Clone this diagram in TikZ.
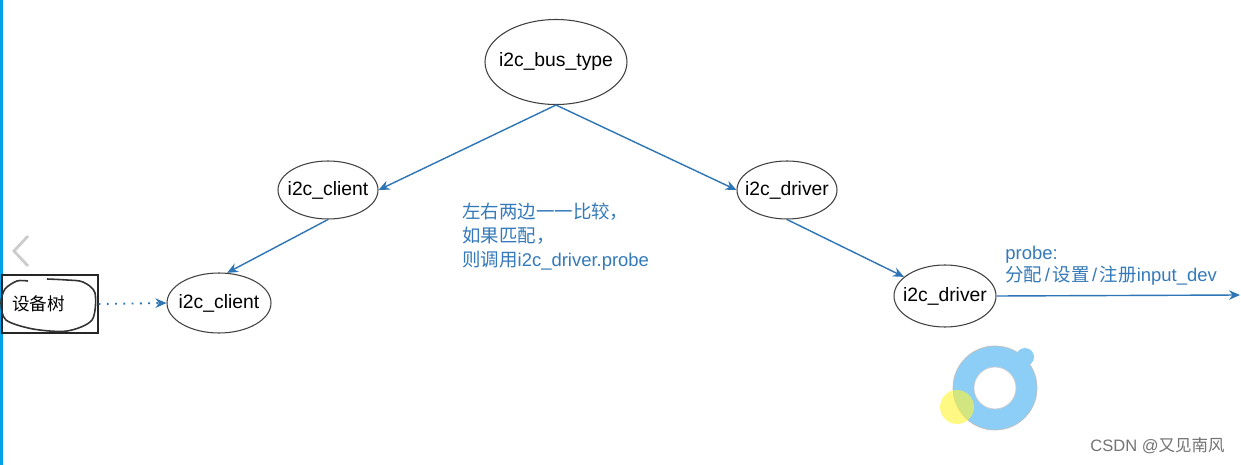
\documentclass[tikz,border=0pt]{standalone}
\usepackage{fontspec}
\setmainfont{Liberation Sans}
\newfontfamily\cjk{Noto Sans CJK SC}
\usetikzlibrary{arrows.meta,shapes.geometric}

\definecolor{linkblue}{RGB}{46,117,182}
\definecolor{noteblue}{RGB}{52,122,186}
\definecolor{edgebar}{RGB}{0,160,233}
\definecolor{lensblue}{RGB}{140,206,245}

\begin{document}
\begin{tikzpicture}[
  font=\fontsize{11}{13}\selectfont,
  >={Stealth[length=2.2mm,width=1.9mm]},
  bubble/.style={ellipse, draw=black!75, line width=0.6pt, inner xsep=-4mm, inner ysep=0pt},
  note/.style={text=noteblue, align=left, anchor=north west, inner sep=0pt},
  arr/.style={->, line width=0.8pt, draw=linkblue}
]

% Frame
\fill[white] (0,0) rectangle (24.82,-9.30);
\useasboundingbox (0,0) rectangle (24.82,-9.30);
\fill[edgebar] (0,0) rectangle (0.05,-9.30);
\draw[black!20, line width=1.6pt] (0.56,-4.72) -- (0.28,-5.02) -- (0.56,-5.32);

% Bus and the two sides
\node[bubble, minimum width=2.84cm, minimum height=1.7cm] (bus) at (11.12,-1.24) {i2c\_bus\_type};
\node[bubble, minimum width=2.0cm, minimum height=1.16cm] (client) at (6.56,-3.80) {i2c\_client};
\node[bubble, minimum width=2.0cm, minimum height=1.16cm] (driver) at (15.74,-3.80) {i2c\_driver};
\node[bubble, minimum width=2.08cm, minimum height=1.2cm] (clientdev) at (4.38,-6.06) {i2c\_client};
\node[bubble, minimum width=2.04cm, minimum height=1.24cm] (driverdev) at (18.90,-5.92) {i2c\_driver};

% Device tree
\node[draw=black!85, line width=0.6pt, minimum width=1.92cm, minimum height=1.16cm,
      font=\cjk\fontsize{10}{12}\selectfont] (dts) at (1.0,-6.08) {设备树\kern0.46cm};
\draw[black!80, line width=0.9pt] plot[smooth] coordinates {(0.94,-5.58) (1.34,-5.60) (1.66,-5.64)
  (1.90,-5.86) (1.84,-6.40) (1.34,-6.62) (0.66,-6.58) (0.12,-6.40) (0.02,-6.06) (0.10,-5.78)
  (0.34,-5.62) (0.56,-5.62)};

\coordinate (out) at (24.80,-5.90);

\draw[arr] (bus.south) -- (client.east);
\draw[arr] (bus.south) -- (driver.west);
\draw[arr] (client.south) -- (clientdev.75);
\draw[arr] (driver.south) -- (driverdev.155);
\draw[arr, line width=1.1pt, dash pattern=on 1.1pt off 3.6pt] (dts.east) -- (clientdev.west);
\draw[arr] (driverdev.east) -- (out);

% Notes
\node[note, font=\fontsize{10.5}{13.6}\selectfont] (match) at (9.24,-4.06)
  {{\cjk 左右两边一一比较，}\\ {\cjk 如果匹配，}\\ {\cjk 则调用}i2c\_driver.probe};
\node[note, font=\fontsize{10.5}{12.5}\selectfont] (probe) at (20.10,-4.92)
  {probe:\\ {\cjk 分配}\hspace{1.5pt}/\hspace{1.5pt}{\cjk 设置}\hspace{1.5pt}/\hspace{1.5pt}{\cjk 注册}input\_dev};

% Magnifier and watermark
\fill[lensblue, draw=black!25] (19.90,-7.76) circle (0.84);
\fill[lensblue] (20.50,-7.14) circle (0.18);
\fill[white, draw=black!20] (19.90,-7.76) circle (0.42);
\fill[yellow!80, opacity=0.6] (19.14,-8.14) circle (0.34);
\node[text=black!55, font=\fontsize{9.4}{11}\selectfont] (mark) at (23.15,-8.92) {CSDN @{\cjk 又见南风}};

\end{tikzpicture}
\end{document}
